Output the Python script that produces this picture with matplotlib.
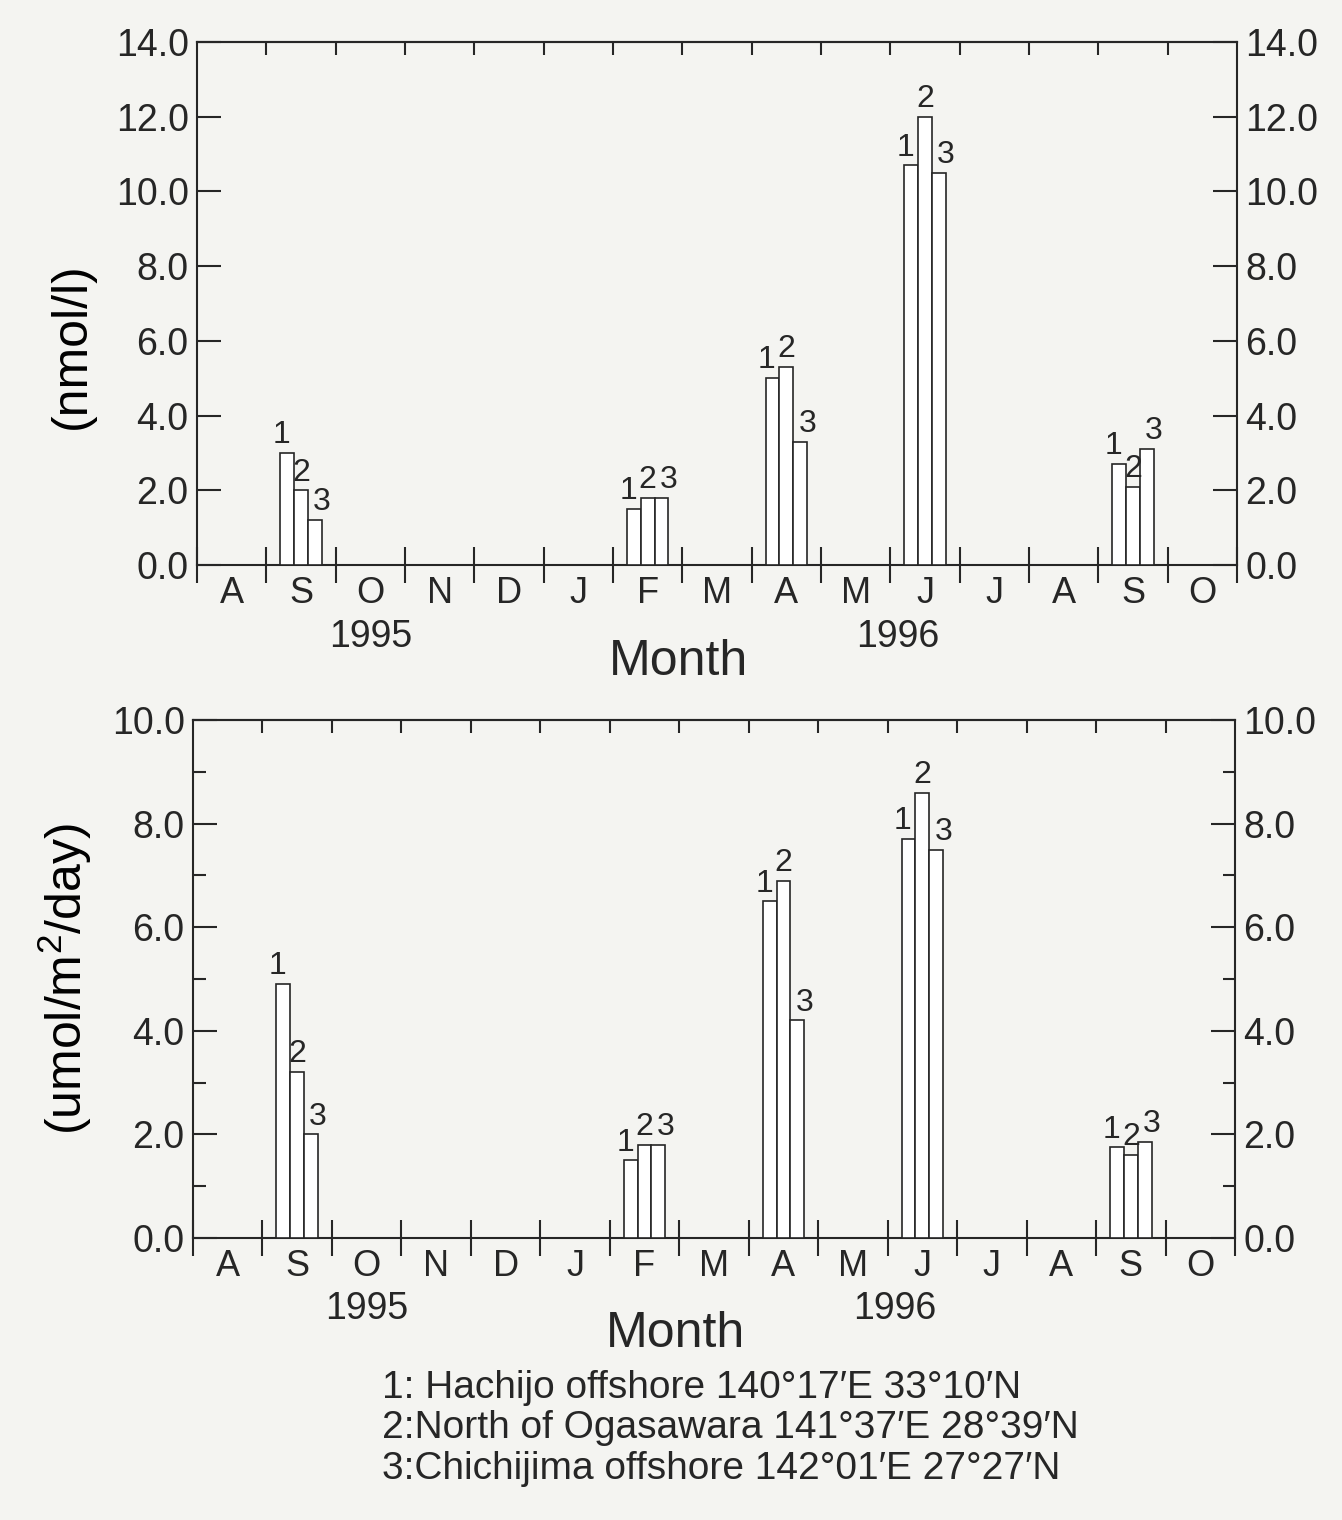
import matplotlib
matplotlib.use('Agg')
import matplotlib.pyplot as plt
from matplotlib.ticker import MultipleLocator, FormatStrFormatter

# months shown on the time axis, Aug 1995 .. Oct 1996
MONTHS = ['A', 'S', 'O', 'N', 'D', 'J', 'F', 'M', 'A', 'M', 'J', 'J', 'A', 'S', 'O']
# month index (0 = Aug 1995) of each cruise
CRUISE_MONTH = [1, 6, 8, 10, 13]
STATIONS = ['1', '2', '3']

# dissolved concentration (nmol/l), stations 1-3
conc_st1 = [3.0, 1.5, 5.0, 10.7, 2.7]
conc_st2 = [2.0, 1.8, 5.3, 12.0, 2.1]
conc_st3 = [1.2, 1.8, 3.3, 10.5, 3.1]

# flux (umol/m2/day), stations 1-3
flux_st1 = [4.9, 1.5, 6.5, 7.7, 1.75]
flux_st2 = [3.2, 1.8, 6.9, 8.6, 1.6]
flux_st3 = [2.0, 1.8, 4.2, 7.5, 1.85]

YEAR_LABELS = [('1995', 2.5), ('1996', 10.1)]
STATION_NOTES = [
    '1: Hachijo offshore 140°17′E 33°10′N',
    '2:North of Ogasawara 141°37′E 28°39′N',
    '3:Chichijima offshore 142°01′E 27°27′N',
]

INK = '#262626'
PAPER = '#f4f4f1'
FONT = ['Liberation Sans', 'DejaVu Sans']

plt.rcParams['font.family'] = FONT
plt.rcParams['text.color'] = INK
plt.rcParams['axes.edgecolor'] = INK
plt.rcParams['xtick.color'] = INK
plt.rcParams['ytick.color'] = INK
plt.rcParams['axes.linewidth'] = 1.5

BAR_W = 0.2
OFFSETS = [-0.2, 0.0, 0.2]
# station numbers sit a little outward so neighbours don't collide
LABEL_SHIFT = [-0.08, 0.0, 0.1]


def panel(ax, series, ymax, ylabel, minor):
    for k, vals in enumerate(series):
        xs = [m + 0.5 + OFFSETS[k] for m in CRUISE_MONTH]
        ax.bar(xs, vals, width=BAR_W, facecolor='white', edgecolor=INK,
               linewidth=1.2, zorder=3)
        for x, v in zip(xs, vals):
            ax.annotate(STATIONS[k], (x + LABEL_SHIFT[k], v), xytext=(0, 2),
                        textcoords='offset points', ha='center', va='bottom',
                        fontsize=23, zorder=4)

    ax.set_xlim(0, len(MONTHS))
    ax.set_ylim(0, ymax)
    ax.set_facecolor(PAPER)

    # month letters centred in each month, boundaries marked by long ticks
    ax.set_xticks([i + 0.5 for i in range(len(MONTHS))])
    ax.set_xticklabels(MONTHS)
    ax.set_xticks(range(len(MONTHS) + 1), minor=True)
    ax.tick_params(axis='x', which='major', length=0, pad=8, labelsize=26)
    ax.tick_params(axis='x', which='minor', direction='inout', length=26,
                   width=1.5, bottom=True, top=False)
    top = ax.secondary_xaxis('top')
    top.set_xticks(range(1, len(MONTHS)))
    top.tick_params(direction='in', length=9, width=1.5, labeltop=False)

    ax.yaxis.set_major_locator(MultipleLocator(2))
    ax.yaxis.set_major_formatter(FormatStrFormatter('%.1f'))
    if minor:
        ax.yaxis.set_minor_locator(MultipleLocator(1))
    ax.tick_params(axis='y', which='major', direction='in', left=True, right=True,
                   labelright=True, length=17, width=1.5, pad=6, labelsize=27)
    ax.tick_params(axis='y', which='minor', direction='in', left=True, right=True,
                   length=9, width=1.5)

    for name, xpos in YEAR_LABELS:
        ax.text(xpos, -0.137, name, transform=ax.get_xaxis_transform(),
                ha='center', va='center', fontsize=27)
    ax.text(6.95, -0.185, 'Month', transform=ax.get_xaxis_transform(),
            ha='center', va='center', fontsize=36)
    ax.set_ylabel(ylabel, fontsize=36)


fig = plt.figure(figsize=(13.42, 15.2), dpi=100, facecolor=PAPER)
ax1 = fig.add_axes([0.1468, 0.6283, 0.775, 0.344])
ax2 = fig.add_axes([0.1438, 0.1855, 0.7765, 0.3408])

panel(ax1, [conc_st1, conc_st2, conc_st3], 14, '(nmol/l)', minor=False)
ax1.yaxis.set_label_coords(-0.098, 0.42)
panel(ax2, [flux_st1, flux_st2, flux_st3], 10, '(umol/m$\\mathregular{^2}$/day)', minor=True)
ax2.yaxis.set_label_coords(-0.095, 0.5)

for i, line in enumerate(STATION_NOTES):
    fig.text(0.285, 0.087 - i * 0.0268, line, ha='left', va='center', fontsize=28)

fig.savefig('out.png', dpi=100, facecolor=PAPER)
